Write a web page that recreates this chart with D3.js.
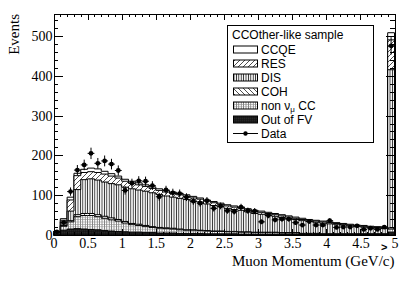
<!DOCTYPE html>
<html lang="en">
<head>
<meta charset="UTF-8">
<title>CCOther-like sample</title>
<style>
  body { margin: 0; background: #fff; }
  svg { display: block; }
  .tick text { font-family: "Liberation Serif", "Times New Roman", serif; font-size: 14px; fill: #000; }
  .axis path, .axis line { stroke: #000; shape-rendering: crispEdges; }
  .leg text { font-family: "Liberation Sans", Arial, sans-serif; font-size: 12px; fill: #000; }
</style>
</head>
<body>
<svg id="chart" width="415" height="281"></svg>
<script src="https://d3js.org/d3.v7.min.js"></script>
<script>
// 0.1 GeV/c bins from 0 to 5, the last one is the overflow (>5)
var binEdges = d3.range(0, 51).map(function (i) { return i / 10; });

var outFV   = [3,12,15,16,15,14,13,11,10,9, 8,7,7,6,6,5,5,5,4,4, 4,4,3,3,3,3,3,2,2,2, 2,2,2,2,2,2,1,1,1,1, 1,1,1,1,1,1,1,1,1,7];
var nonNumu = [3,10,18,30,34,35,33,31,28,26, 22,19,17,15,13,12,11,10,9,8, 8,7,7,6,6,5,5,5,5,4, 4,4,4,3,3,3,3,3,3,2, 2,2,2,2,2,2,2,2,2,8];
var coh     = [0,2,3,5,5,5,5,5,5,4, 4,3,3,3,2,2,2,2,2,1, 1,1,1,1,1,1,1,1,1,1, 1,1,1,1,1,1,0,0,0,0, 0,0,0,0,0,0,0,0,0,3];
var dis     = [1,9,24,63,85,87,87,86,86,87, 86,87,86,86,85,83,80,78,77,76, 72,71,67,64,61,58,55,54,50,47, 45,43,40,38,35,33,32,30,28,27, 25,24,22,20,18,17,15,14,13,397];
var res     = [1,4,28,35,18,18,19,20,19,17, 15,14,13,12,11,10,10,9,9,8, 8,7,7,7,6,6,6,5,5,5, 5,4,4,4,4,3,3,3,3,3, 3,2,2,2,2,2,2,2,2,75];
var ccqe    = [1,4,7,6,8,9,9,7,6,5, 5,5,5,4,4,4,4,4,4,4, 4,3,3,3,3,3,3,3,3,3, 3,3,3,3,3,3,3,2,2,2, 2,2,2,2,2,2,2,2,2,18];
var data    = [8,31,109,163,176,205,180,186,178,162, 112,130,136,135,124,96,113,106,104,95, 85,80,86,67,73,61,59,70,61,60, 33,49,38,40,40,31,25,34,25,25, 36,19,20,20,23,14,17,14,20,475];

var xTicks = [0, 0.5, 1, 1.5, 2, 2.5, 3, 3.5, 4, 4.5, 5];
var yTicks = [0, 100, 200, 300, 400, 500];

var svg = d3.select("#chart");
var margin = {top: 14, right: 20.5, bottom: 46, left: 53.5};
var width = 415 - margin.left - margin.right,
    height = 281 - margin.top - margin.bottom;

var x = d3.scaleLinear().domain([0, 5]).range([margin.left, margin.left + width]);
var y = d3.scaleLinear().domain([0, 555]).range([margin.top + height, margin.top]);

// hatch patterns, roughly like the ROOT fill styles
var defs = svg.append("defs");
function pattern(id, w, h) {
  var p = defs.append("pattern").attr("id", id)
    .attr("patternUnits", "userSpaceOnUse")
    .attr("width", w).attr("height", h);
  p.append("rect").attr("width", w).attr("height", h).attr("fill", "#fff");
  return p;
}
pattern("pRes", 5, 5).append("path")
  .attr("d", "M0,5L5,0M-1,1L1,-1M4,6L6,4")
  .attr("stroke", "#222").attr("stroke-width", 0.8);
pattern("pCoh", 5, 5).append("path")
  .attr("d", "M0,0L5,5M4,-1L6,1M-1,4L1,6")
  .attr("stroke", "#222").attr("stroke-width", 0.8);
pattern("pDis", 2.4, 10).append("line")
  .attr("x1", 1.2).attr("x2", 1.2).attr("y1", 0).attr("y2", 10)
  .attr("stroke", "#222").attr("stroke-width", 0.9);
var pn = pattern("pNon", 2.4, 2.4);
pn.append("line").attr("x1", 1.2).attr("x2", 1.2).attr("y1", 0).attr("y2", 2.4)
  .attr("stroke", "#444").attr("stroke-width", 0.6);
pn.append("line").attr("x1", 0).attr("x2", 2.4).attr("y1", 1.2).attr("y2", 1.2)
  .attr("stroke", "#888").attr("stroke-width", 0.5);
var po = pattern("pOut", 2, 2);
po.append("rect").attr("width", 2).attr("height", 2).attr("fill", "#111");
po.append("rect").attr("x", 0.6).attr("y", 0.6).attr("width", 0.6).attr("height", 0.6).attr("fill", "#999");

// stacked components, bottom to top
var comps = [
  {name: "Out of FV", vals: outFV, fill: "url(#pOut)"},
  {name: "non", vals: nonNumu, fill: "url(#pNon)"},
  {name: "COH", vals: coh, fill: "url(#pCoh)"},
  {name: "DIS", vals: dis, fill: "url(#pDis)"},
  {name: "RES", vals: res, fill: "url(#pRes)"},
  {name: "CCQE", vals: ccqe, fill: "#fff"}
];
var run = outFV.map(function () { return 0; });
comps.forEach(function (c) {
  c.cum = c.vals.map(function (v, i) { run[i] += v; return run[i]; });
});

var area = d3.area()
  .x(function (d) { return x(d[0]); })
  .y0(y(0))
  .y1(function (d) { return y(d[1]); });

function steps(cum) {
  var pts = [];
  cum.forEach(function (v, i) {
    pts.push([binEdges[i], v]);
    pts.push([binEdges[i + 1], v]);
  });
  return pts;
}

// ROOT draws the cumulative histograms from the largest down
var hists = svg.append("g");
comps.slice().reverse().forEach(function (c) {
  hists.append("path")
    .attr("d", area(steps(c.cum)))
    .attr("fill", c.fill)
    .attr("stroke", "#000")
    .attr("stroke-width", 1);
});

// data points with stat errors
var centers = binEdges.slice(0, -1).map(function (e) { return e + 0.05; });
var pts = svg.append("g");
data.forEach(function (d, i) {
  var e = Math.sqrt(d);
  pts.append("line")
    .attr("x1", x(centers[i])).attr("x2", x(centers[i]))
    .attr("y1", y(d - e)).attr("y2", y(d + e))
    .attr("stroke", "#000").attr("stroke-width", 1);
  pts.append("line")
    .attr("x1", x(binEdges[i])).attr("x2", x(binEdges[i + 1]))
    .attr("y1", y(d)).attr("y2", y(d))
    .attr("stroke", "#000").attr("stroke-width", 1);
  pts.append("circle")
    .attr("cx", x(centers[i])).attr("cy", y(d)).attr("r", 2.4)
    .attr("fill", "#000");
});

// axes, ticks pointing inwards on all four sides
var xMinor = d3.range(0, 51).map(function (i) { return i / 10; });
var yMinor = d3.range(0, 556, 20);
var fmt = d3.format("~g");

svg.append("g").attr("class", "axis")
  .attr("transform", "translate(0," + y(0) + ")")
  .call(d3.axisBottom(x).tickValues(xMinor).tickSizeInner(-3).tickSizeOuter(0).tickFormat(""));
svg.append("g").attr("class", "axis")
  .attr("transform", "translate(0," + y(0) + ")")
  .call(d3.axisBottom(x).tickValues(xTicks).tickSizeInner(-6).tickSizeOuter(0).tickPadding(3).tickFormat(fmt));
svg.append("g").attr("class", "axis")
  .attr("transform", "translate(0," + margin.top + ")")
  .call(d3.axisTop(x).tickValues(xMinor).tickSizeInner(-3).tickSizeOuter(0).tickFormat(""));
svg.append("g").attr("class", "axis")
  .attr("transform", "translate(0," + margin.top + ")")
  .call(d3.axisTop(x).tickValues(xTicks).tickSizeInner(-6).tickSizeOuter(0).tickFormat(""));

svg.append("g").attr("class", "axis")
  .attr("transform", "translate(" + x(0) + ",0)")
  .call(d3.axisLeft(y).tickValues(yMinor).tickSizeInner(-4.5).tickSizeOuter(0).tickFormat(""));
svg.append("g").attr("class", "axis")
  .attr("transform", "translate(" + x(0) + ",0)")
  .call(d3.axisLeft(y).tickValues(yTicks).tickSizeInner(-9).tickSizeOuter(0).tickPadding(1).tickFormat(fmt));
svg.append("g").attr("class", "axis")
  .attr("transform", "translate(" + x(5) + ",0)")
  .call(d3.axisRight(y).tickValues(yMinor).tickSizeInner(-4.5).tickSizeOuter(0).tickFormat(""));
svg.append("g").attr("class", "axis")
  .attr("transform", "translate(" + x(5) + ",0)")
  .call(d3.axisRight(y).tickValues(yTicks).tickSizeInner(-9).tickSizeOuter(0).tickFormat(""));

// overflow marker in front of the last label
svg.append("text")
  .attr("x", x(5) - 7).attr("y", 251)
  .attr("text-anchor", "end")
  .style("font-family", "Liberation Sans, Arial, sans-serif")
  .style("font-size", "11px").style("font-weight", "bold")
  .text(">");

svg.append("text")
  .attr("x", x(5)).attr("y", 266)
  .attr("text-anchor", "end")
  .style("font-family", "Liberation Serif, Times New Roman, serif")
  .style("font-size", "15px")
  .text("Muon Momentum (GeV/c)");

svg.append("text")
  .attr("transform", "translate(19," + margin.top + ") rotate(-90)")
  .attr("text-anchor", "end")
  .style("font-family", "Liberation Serif, Times New Roman, serif")
  .style("font-size", "15px")
  .text("Events");

// legend
var leg = svg.append("g").attr("class", "leg");
leg.append("rect")
  .attr("x", 227.5).attr("y", 25.5).attr("width", 146).attr("height", 117)
  .attr("fill", "#fff").attr("stroke", "#000").attr("stroke-width", 1);
leg.append("text").attr("x", 232).attr("y", 38.5).text("CCOther-like sample");

var legItems = comps.slice().reverse();
legItems.forEach(function (c, i) {
  var cy = 49.5 + i * 14;
  leg.append("rect")
    .attr("x", 233.5).attr("y", cy - 3.5).attr("width", 24).attr("height", 7)
    .attr("fill", c.fill).attr("stroke", "#000").attr("stroke-width", 1);
  var t = leg.append("text").attr("x", 261).attr("y", cy + 4);
  if (c.name === "non") {
    t.append("tspan").text("non \u03bd");
    t.append("tspan").attr("dy", 2.5).style("font-size", "8px").text("\u03bc");
    t.append("tspan").attr("dy", -2.5).text(" CC");
  } else {
    t.text(c.name);
  }
});
var dy = 49.5 + 6 * 14;
leg.append("line").attr("x1", 233).attr("x2", 258).attr("y1", dy).attr("y2", dy)
  .attr("stroke", "#000").attr("stroke-width", 1);
leg.append("circle").attr("cx", 245.5).attr("cy", dy).attr("r", 2.2).attr("fill", "#000");
leg.append("text").attr("x", 261).attr("y", dy + 4).text("Data");
</script>
</body>
</html>
